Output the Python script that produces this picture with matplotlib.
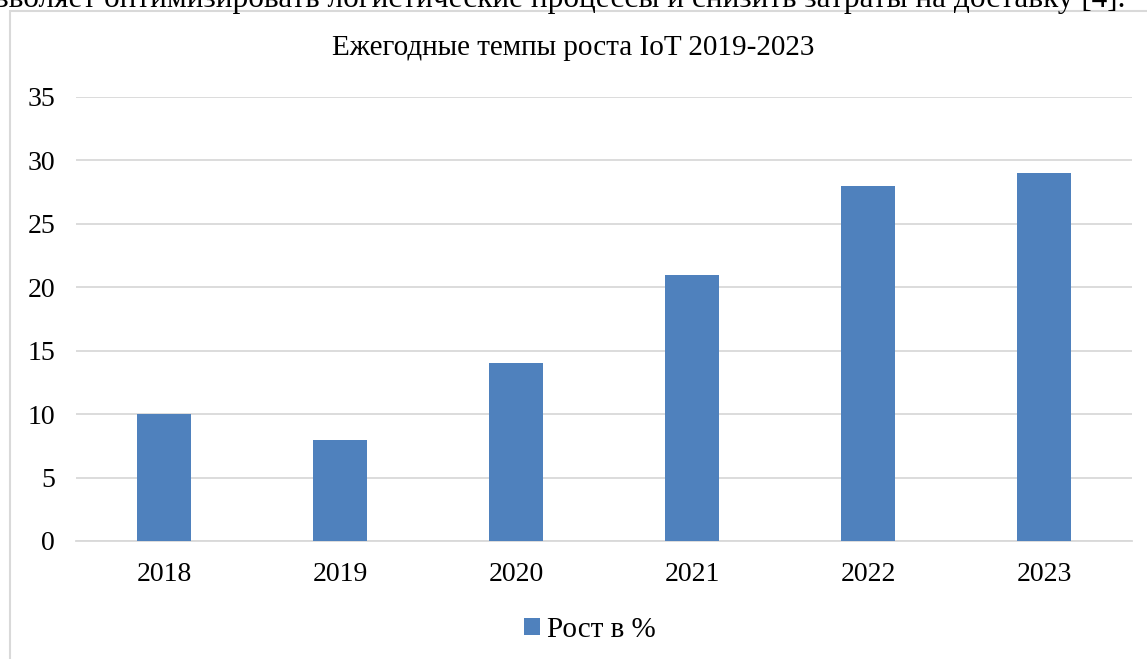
import matplotlib
matplotlib.use("Agg")
import matplotlib.pyplot as plt
from matplotlib.patches import Rectangle

# Data
years = ["2018", "2019", "2020", "2021", "2022", "2023"]
growth = [10, 8, 14, 21, 28, 29]
yticks = [0, 5, 10, 15, 20, 25, 30, 35]

title = "Ежегодные темпы роста IoT 2019-2023"
legend_label = "Рост в %"
doc_text = "позволяет оптимизировать логистические процессы и снизить затраты на доставку [4]."

plt.rcParams['font.family'] = ['Liberation Serif', 'DejaVu Serif']

W, H = 1147, 659
fig = plt.figure(figsize=(W / 100, H / 100), dpi=100)

# chart frame from the document
fig.patches.append(Rectangle((10 / W, -0.1), 1.2, 1 - 11 / H + 0.1,
                             transform=fig.transFigure, fill=False,
                             edgecolor='#d9d9d9', linewidth=1.5))

# cut-off line of document text at the top
fig.text(1125 / W, 1 - 7 / H, doc_text, ha='right', va='baseline',
         fontsize=22.5, color='black')

ax = fig.add_axes([76 / W, 118 / H, 1056 / W, 444 / H])
ax.bar(years, growth, width=0.31, color='#4f81bd', label=legend_label, zorder=3)
ax.set_ylim(0, 35)
ax.set_xlim(-0.5, len(years) - 0.5)
ax.set_yticks(yticks)
ax.yaxis.grid(True, color='#d9d9d9', linewidth=1.3, zorder=0)
for s in ['top', 'right', 'left']:
    ax.spines[s].set_visible(False)
ax.spines['bottom'].set_color('#d9d9d9')
ax.spines['bottom'].set_linewidth(1.3)
ax.tick_params(axis='both', length=0, labelsize=20)
ax.tick_params(axis='y', pad=15)
ax.tick_params(axis='x', pad=15)

fig.text(0.5, 1 - 48 / H, title, ha='center', va='center', fontsize=21)

fig.legend(loc='center', bbox_to_anchor=(590 / W, 1 - 630 / H), frameon=False,
           fontsize=21, handlelength=0.55, handleheight=0.55, handletextpad=0.25)

fig.savefig("out.png", dpi=100)
